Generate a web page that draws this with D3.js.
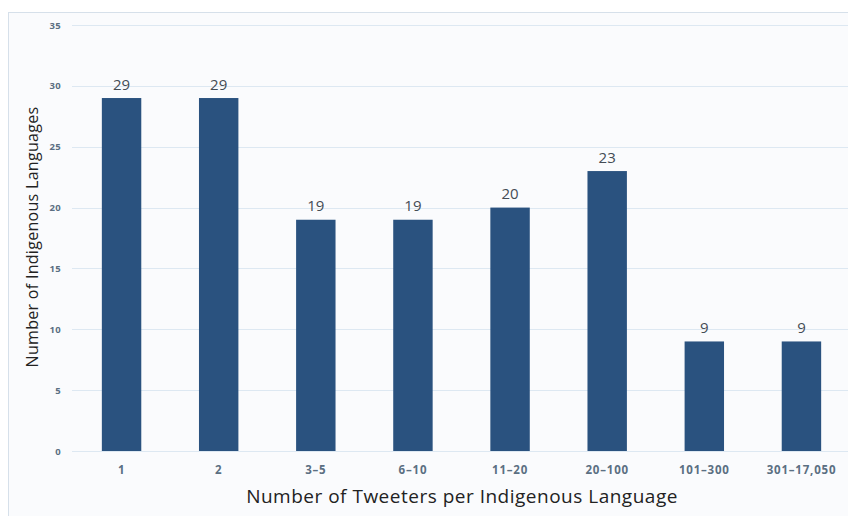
<!DOCTYPE html>
<html>
<head>
<meta charset="utf-8">
<script src="https://cdn.jsdelivr.net/npm/d3@7"></script>
<style>
  html, body { margin: 0; padding: 0; background: #ffffff; }
  svg { display: block; }
</style>
</head>
<body>
<svg id="chart" width="848" height="516"></svg>
<script>
// Tweeter-count bins and how many indigenous languages fall in each
const categories = ["1", "2", "3\u20135", "6\u201310", "11\u201320", "20\u2013100", "101\u2013300", "301\u201317,050"];
const languageCounts = [29, 29, 19, 19, 20, 23, 9, 9];
const yTicks = [0, 5, 10, 15, 20, 25, 30, 35];
const xTitle = "Number of Tweeters per Indigenous Language";
const yTitle = "Number of Indigenous Languages";

const svg = d3.select("#chart");
const W = 848, H = 516;

// panel background and frame
svg.append("rect")
  .attr("x", 8.5).attr("y", 12.5)
  .attr("width", W + 10).attr("height", H)
  .attr("fill", "#fafbfd")
  .attr("stroke", "#d6e0ea").attr("stroke-width", 1);

const x = d3.scaleBand()
  .domain(categories)
  .range([73, 850])
  .paddingInner(0.594)
  .paddingOuter(0.297);

const y = d3.scaleLinear()
  .domain([0, 35])
  .range([451, 25]);

// horizontal gridlines
svg.append("g")
  .selectAll("line")
  .data(yTicks)
  .join("line")
  .attr("x1", 72).attr("x2", W)
  .attr("y1", d => Math.round(y(d)) + 0.5)
  .attr("y2", d => Math.round(y(d)) + 0.5)
  .attr("stroke", "#dde8f2").attr("stroke-width", 1);

// y axis labels
const yAxis = d3.axisLeft(y).tickValues(yTicks).tickSize(0).tickPadding(0);
svg.append("g")
  .attr("transform", "translate(61,0)")
  .call(yAxis)
  .call(g => g.select(".domain").remove())
  .call(g => g.selectAll("text")
    .attr("fill", "#5b6f82")
    .attr("font-family", "'Open Sans', sans-serif")
    .attr("font-size", 9.5)
    .attr("letter-spacing", 0.3)
    .attr("font-weight", 700));

// x axis labels
const xAxis = d3.axisBottom(x).tickSize(0).tickPadding(0);
svg.append("g")
  .attr("transform", "translate(0,466)")
  .call(xAxis)
  .call(g => g.select(".domain").remove())
  .call(g => g.selectAll("text")
    .attr("fill", "#5b6f82")
    .attr("font-family", "'Open Sans', sans-serif")
    .attr("font-size", 11.5)
    .attr("letter-spacing", 0.8)
    .attr("font-weight", 700));

// bars
svg.append("g")
  .selectAll("rect")
  .data(languageCounts)
  .join("rect")
  .attr("x", (d, i) => x(categories[i]))
  .attr("y", d => y(d))
  .attr("width", x.bandwidth())
  .attr("height", d => y(0) - y(d))
  .attr("fill", "#2a527f");

// value labels
svg.append("g")
  .selectAll("text")
  .data(languageCounts)
  .join("text")
  .attr("x", (d, i) => x(categories[i]) + x.bandwidth() / 2)
  .attr("y", d => y(d) - 8.5)
  .attr("text-anchor", "middle")
  .attr("fill", "#444c55")
  .attr("font-family", "'Open Sans', sans-serif")
  .attr("font-size", 15)
  .text(d => d);

// axis titles
svg.append("text")
  .attr("x", 462).attr("y", 503)
  .attr("text-anchor", "middle")
  .attr("fill", "#222222")
  .attr("font-family", "'Open Sans', sans-serif")
  .attr("font-size", 19)
  .attr("letter-spacing", 0.5)
  .text(xTitle);

svg.append("text")
  .attr("transform", "translate(38,237) rotate(-90)")
  .attr("text-anchor", "middle")
  .attr("fill", "#222222")
  .attr("font-family", "'Open Sans', sans-serif")
  .attr("font-size", 16)
  .attr("letter-spacing", 0.3)
  .text(yTitle);
</script>
</body>
</html>
